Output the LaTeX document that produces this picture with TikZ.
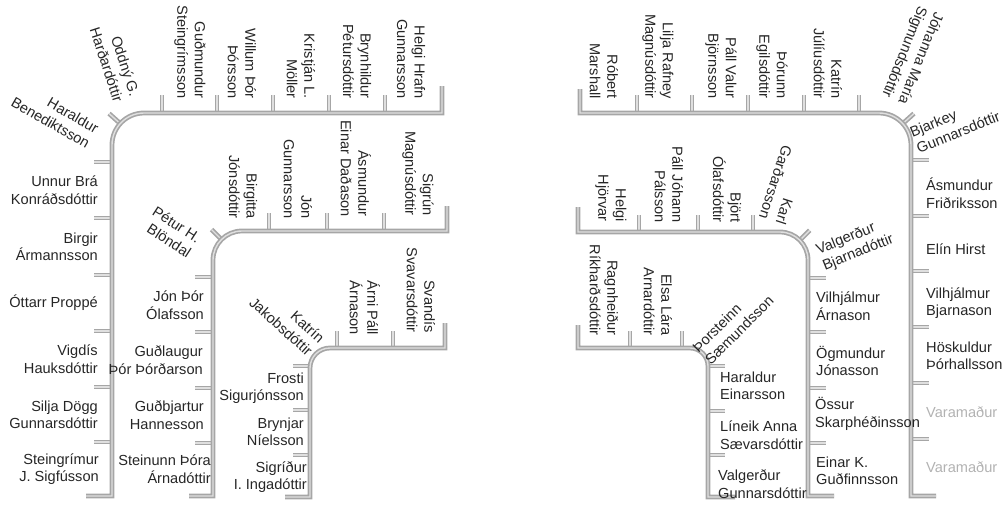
\documentclass[tikz,border=0pt]{standalone}
\usepackage{fontspec}
\setmainfont{Liberation Sans}
\tikzset{x=1pt,y=1pt,
  rail/.style={draw=gray!70, double=gray!25, double distance=1.4pt, line width=1.7pt},
  mp/.style={font=\fontsize{14.6}{17.5}\selectfont, inner sep=1pt, text=black!85},
  mpl/.style={mp, anchor=east, align=right},
  mpr/.style={mp, anchor=west, align=left},
  mpt/.style={mp, anchor=east, align=right, rotate=-90},
  spare/.style={mpr, text=gray!60}}

\begin{document}
\begin{tikzpicture}
        \useasboundingbox (0,0) rectangle (1007,-506);
        % left, outer row
        \draw[rail] (162,-113) -- (162,-95) (217,-113) -- (217,-95) (273,-113) -- (273,-95)
        (329,-113) -- (329,-95) (385,-113) -- (385,-95);
        \draw[rail] (112,-162) -- (94,-162) (112,-218) -- (94,-218) (112,-275) -- (94,-275)
        (112,-331) -- (94,-331) (112,-387) -- (94,-387) (112,-442) -- (94,-442);
        \draw[rail] (144,-145) ++(138:32) -- ++(138:15);
        \draw[rail] (442,-86) -- (442,-113) -- (144,-113) arc[start angle=90, end angle=180, radius=32]
        -- (112,-496) -- (86,-496);
        \node[mp, rotate=-30, align=right] (haraldurb) at (55,-115) {Haraldur\\Benediktsson};
        \node[mp, rotate=-72, align=right] (oddny) at (115,-62) {Oddný G.\\Harðardóttir};
        \node[mpt] (gudmundur) at (190,-100) {Guðmundur\\Steingrímsson};
        \node[mpt] (willum) at (242,-100) {Willum Þór\\Þórsson};
        \node[mpt] (kristjan) at (301,-100) {Kristján L.\\Möller};
        \node[mpt] (brynhildur) at (357,-100) {Brynhildur\\Pétursdóttir};
        \node[mpt] (helgihr) at (411,-100) {Helgi Hrafn\\Gunnarsson};
        \node[mpl] (unnur) at (99,-190) {Unnur Brá\\Konráðsdóttir};
        \node[mpl] (birgir) at (99,-247) {Birgir\\Ármannsson};
        \node[mpl] (ottarr) at (99,-303) {Óttarr Proppé};
        \node[mpl] (vigdis) at (99,-359) {Vigdís\\Hauksdóttir};
        \node[mpl] (silja) at (99,-415) {Silja Dögg\\Gunnarsdóttir};
        \node[mpl] (steingrimur) at (100,-469) {Steingrímur\\J. Sigfússon};
        % left, middle row
        \draw[rail] (269,-231) -- (269,-213) (327,-231) -- (327,-213) (384,-231) -- (384,-213);
        \draw[rail] (213,-277) -- (195,-277) (213,-332) -- (195,-332) (213,-388) -- (195,-388)
        (213,-443) -- (195,-443);
        \draw[rail] (242,-260) ++(135:29) -- ++(135:14);
        \draw[rail] (447,-206) -- (447,-231) -- (242,-231) arc[start angle=90, end angle=180, radius=29]
        -- (213,-496) -- (189,-496);
        \node[mp, rotate=-33, align=right] (petur) at (172,-232) {Pétur H.\\Blöndal};
        \node[mpt] (birgitta) at (243,-220) {Birgitta\\Jónsdóttir};
        \node[mpt] (jong) at (298,-220) {Jón\\Gunnarsson};
        \node[mpt] (asmundure) at (356,-218) {Ásmundur\\Einar Daðason};
        \node[mpt] (sigrun) at (418,-217) {Sigrún\\Magnúsdóttir};
        \node[mpl] (jonthor) at (205,-305) {Jón Þór\\Ólafsson};
        \node[mpl] (gudlaugur) at (204,-360) {Guðlaugur\\Þór Þórðarson};
        \node[mpl] (gudbjartur) at (205,-415) {Guðbjartur\\Hannesson};
        \node[mpl] (steinunn) at (212,-469) {Steinunn Þóra\\Árnadóttir};
        % left, inner row
        \draw[rail] (337,-348) -- (337,-331) (393,-348) -- (393,-331);
        \draw[rail] (310,-366) -- (293,-366) (310,-410) -- (293,-410) (310,-455) -- (293,-455);
        \draw[rail] (445,-323) -- (445,-348) -- (330,-348) arc[start angle=90, end angle=180, radius=20]
        -- (310,-497) -- (285,-497);
        \node[mp, rotate=-42, align=right] (katrinj) at (287,-320) {Katrín\\Jakobsdóttir};
        \node[mpt] (arni) at (365,-336) {Árni Páll\\Árnason};
        \node[mpt] (svandis) at (421,-334) {Svandís\\Svavarsdóttir};
        \node[mpl] (frosti) at (305,-388) {Frosti\\Sigurjónsson};
        \node[mpl] (brynjar) at (305,-432) {Brynjar\\Níelsson};
        \node[mpl] (sigridur) at (308,-477) {Sigríður\\I. Ingadóttir};
        % right, outer row
        \draw[rail] (637,-113) -- (637,-95) (692,-113) -- (692,-95) (748,-113) -- (748,-95)
        (804,-113) -- (804,-95) (859,-113) -- (859,-95);
        \draw[rail] (911,-160) -- (929,-160) (911,-216) -- (929,-216) (911,-271) -- (929,-271)
        (911,-327) -- (929,-327) (911,-383) -- (929,-383) (911,-439) -- (929,-439);
        \draw[rail] (879,-145) ++(42:32) -- ++(42:15);
        \draw[rail] (580,-89) -- (580,-113) -- (879,-113) arc[start angle=90, end angle=0, radius=32]
        -- (911,-496) -- (936,-496);
        \node[mpt] (robert) at (604,-100) {Róbert\\Marshall};
        \node[mpt] (lilja) at (658,-100) {Lilja Rafney\\Magnúsdóttir};
        \node[mpt] (pallv) at (721,-100) {Páll Valur\\Björnsson};
        \node[mpt] (thorunn) at (772,-100) {Þórunn\\Egilsdóttir};
        \node[mpt] (katrinju) at (828,-100) {Katrín\\Júlíusdóttir};
        \node[mp, rotate=-112, align=right] (johanna) at (912,-55) {Jóhanna María\\Sigmundsdóttir};
        \node[mp, rotate=22, align=left] (bjarkey) at (955,-124) {Bjarkey\\Gunnarsdóttir};
        \node[mpr] (asmundurf) at (925,-193) {Ásmundur\\Friðriksson};
        \node[mpr] (elin) at (925,-249) {Elín Hirst};
        \node[mpr] (vilhjalmurb) at (925,-303) {Vilhjálmur\\Bjarnason};
        \node[mpr] (hoskuldur) at (925,-356) {Höskuldur\\Þórhallsson};
        \node[spare] (vara1) at (925,-412) {Varamaður};
        \node[spare] (vara2) at (925,-467) {Varamaður};
        % right, middle row
        \draw[rail] (639,-232) -- (639,-215) (698,-232) -- (698,-215) (753,-232) -- (753,-215);
        \draw[rail] (808,-278) -- (826,-278) (808,-332) -- (826,-332) (808,-388) -- (826,-388)
        (808,-443) -- (826,-443);
        \draw[rail] (780,-260) ++(45:28) -- ++(45:14);
        \draw[rail] (578,-207) -- (578,-232) -- (780,-232) arc[start angle=90, end angle=0, radius=28]
        -- (808,-496) -- (834,-496);
        \node[mpt] (helgihj) at (611,-223) {Helgi\\Hjörvar};
        \node[mpt] (pallj) at (669,-224) {Páll Jóhann\\Pálsson};
        \node[mpt] (bjort) at (727,-224) {Björt\\Ólafsdóttir};
        \node[mp, rotate=-108, align=right] (karl) at (784,-185) {Karl\\Garðarsson};
        \node[mp, rotate=22, align=left] (valgerdurb) at (855,-245) {Valgerður\\Bjarnadóttir};
        \node[mpr] (vilhjalmura) at (815,-306) {Vilhjálmur\\Árnason};
        \node[mpr] (ogmundur) at (815,-361) {Ögmundur\\Jónasson};
        \node[mpr] (ossur) at (814,-414) {Össur\\Skarphéðinsson};
        \node[mpr] (einar) at (815,-471) {Einar K.\\Guðfinnsson};
        % right, inner row
        \draw[rail] (630,-348) -- (630,-331) (682,-348) -- (682,-331);
        \draw[rail] (708,-366) -- (725,-366) (708,-411) -- (725,-411) (708,-455) -- (725,-455);
        \draw[rail] (578,-325) -- (578,-348) -- (690,-348) arc[start angle=90, end angle=0, radius=18]
        -- (708,-497) -- (735,-497);
        \node[mpt] (ragnheidur) at (604,-337) {Ragnheiður\\Ríkharðsdóttir};
        \node[mpt] (elsa) at (658,-337) {Elsa Lára\\Arnardóttir};
        \node[mp, rotate=45, align=left] (thorsteinn) at (733,-324) {Þorsteinn\\Sæmundsson};
        \node[mpr] (haraldure) at (719,-386) {Haraldur\\Einarsson};
        \node[mpr] (lineik) at (719,-435) {Líneik Anna\\Sævarsdóttir};
        \node[mpr] (valgerdurg) at (717,-484) {Valgerður\\Gunnarsdóttir};
    \end{tikzpicture}
\end{document}
